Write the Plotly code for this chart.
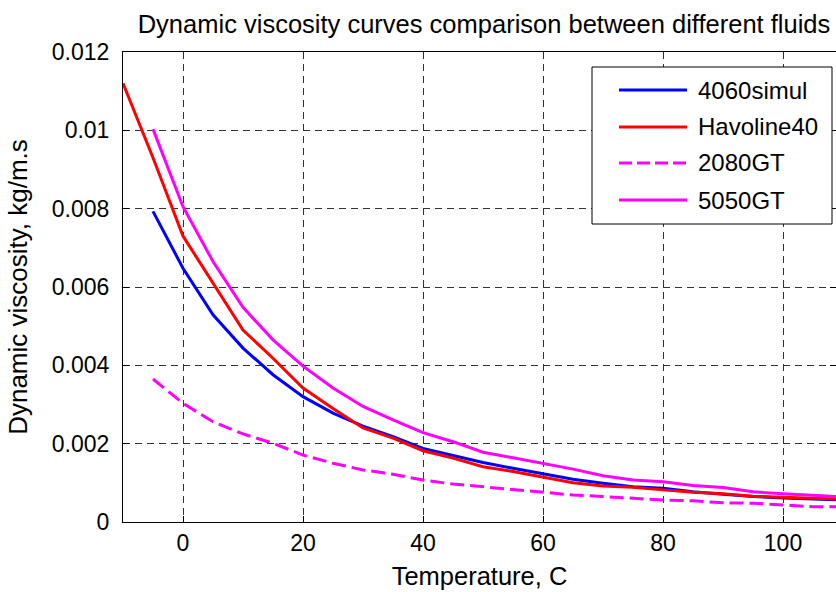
import plotly.graph_objects as go

temps = [-5, 0, 5, 10, 15, 20, 25, 30, 35, 40, 45, 50, 55, 60, 65, 70, 75, 80, 85, 90, 95, 100, 105, 110]
temps_havoline = [-10] + temps

visc_4060simul = [0.00793, 0.00648, 0.00529, 0.00444, 0.00376, 0.00320, 0.00278, 0.00245, 0.00218, 0.00188,
                  0.00170, 0.00152, 0.00137, 0.00123, 0.00109, 0.00099, 0.00090, 0.00086, 0.00077, 0.00071,
                  0.00065, 0.00061, 0.00058, 0.00056]
visc_havoline40 = [0.01120, 0.00930, 0.00730, 0.00610, 0.00490, 0.00418, 0.00342, 0.00290, 0.00240, 0.00214, 0.00182,
                   0.00163, 0.00141, 0.00129, 0.00114, 0.00100, 0.00092, 0.00089, 0.00082, 0.00076, 0.00072,
                   0.00066, 0.00063, 0.00060, 0.00058]
visc_2080gt = [0.00365, 0.00303, 0.00256, 0.00225, 0.00201, 0.00171, 0.00150, 0.00133, 0.00122, 0.00107,
               0.00097, 0.00090, 0.00082, 0.00075, 0.00069, 0.00065, 0.00060, 0.00056, 0.00054, 0.00049,
               0.00048, 0.00043, 0.00039, 0.00039]
visc_5050gt = [0.01003, 0.00805, 0.00665, 0.00548, 0.00465, 0.00398, 0.00342, 0.00295, 0.00261, 0.00228,
               0.00205, 0.00178, 0.00164, 0.00150, 0.00135, 0.00118, 0.00107, 0.00103, 0.00093, 0.00088,
               0.00077, 0.00072, 0.00067, 0.00064]

series_names = ["4060simul", "Havoline40", "2080GT", "5050GT"]
series_x = [temps, temps_havoline, temps, temps]
series_y = [visc_4060simul, visc_havoline40, visc_2080gt, visc_5050gt]
series_colors = ["#0000ff", "#ff0000", "#ff00ff", "#ff00ff"]
series_dash = ["solid", "solid", "14px,6px", "solid"]

x_ticks = [0, 20, 40, 60, 80, 100]
y_ticks = [0, 0.002, 0.004, 0.006, 0.008, 0.01, 0.012]
y_tick_text = ["0", "0.002", "0.004", "0.006", "0.008", "0.01", "0.012"]

FONT = "Liberation Sans, Arial, Helvetica, sans-serif"

W, H = 836, 592
ML, MR, MT, MB = 123, 0, 52, 70
PW, PH = W - ML - MR, H - MT - MB


def px_x(p):
    return (p - ML) / PW


def px_y(p):
    return (H - MB - p) / PH


fig = go.Figure()
for name, xs, ys, col, dash in zip(series_names, series_x, series_y, series_colors, series_dash):
    fig.add_trace(go.Scatter(x=xs, y=ys, mode="lines", name=name,
                             line=dict(color=col, width=3, dash=dash), showlegend=False))

axis_common = dict(
    showline=True, linecolor="black", linewidth=1,
    ticks="inside", ticklen=6, tickcolor="black", tickwidth=1,
    showgrid=True, gridcolor="#333333", gridwidth=1, griddash="7px,5px",
    zeroline=False, automargin=False,
    tickfont=dict(family=FONT, size=23, color="black"),
)

# legend box drawn in paper coordinates
shapes = [dict(type="rect", xref="paper", yref="paper",
               x0=px_x(592), x1=px_x(832), y0=px_y(224), y1=px_y(67),
               line=dict(color="black", width=1), fillcolor="white", layer="above")]
annotations = []
legend_rows = [90, 127, 163, 200]
for name, col, dash, ry in zip(series_names, series_colors, series_dash, legend_rows):
    shapes.append(dict(type="line", xref="paper", yref="paper",
                       x0=px_x(619), x1=px_x(687), y0=px_y(ry), y1=px_y(ry),
                       line=dict(color=col, width=3, dash=("13px,5px" if dash != "solid" else "solid")),
                       layer="above"))
    annotations.append(dict(text=name, xref="paper", yref="paper", x=px_x(696), y=px_y(ry),
                            xanchor="left", yanchor="middle", showarrow=False,
                            font=dict(family=FONT, size=24, color="black")))

fig.update_layout(
    width=W, height=H,
    margin=dict(l=ML, r=MR, t=MT, b=MB),
    paper_bgcolor="white", plot_bgcolor="white",
    font=dict(family=FONT, color="black"),
    title=dict(text="Dynamic viscosity curves comparison between different fluids",
               font=dict(family=FONT, size=25.5, color="black"),
               x=px_x(484), xref="paper", xanchor="center", y=1 - 24 / H, yref="container", yanchor="middle"),
    xaxis=dict(range=[-10, 108.83], tickvals=x_ticks, mirror=True,
               title=dict(text="Temperature, C", font=dict(family=FONT, size=25.5), standoff=12),
               **axis_common),
    yaxis=dict(range=[0, 0.012], tickvals=y_ticks, ticktext=y_tick_text, mirror="ticks",
               ticklabelstandoff=8,
               title=dict(text="Dynamic viscosity, kg/m.s", font=dict(family=FONT, size=26), standoff=16),
               **axis_common),
    shapes=shapes,
    annotations=annotations,
    showlegend=False,
)

fig.write_html("out.html", config={"displayModeBar": False},
               post_script="document.body.style.margin='0';document.body.style.overflow='hidden';")
